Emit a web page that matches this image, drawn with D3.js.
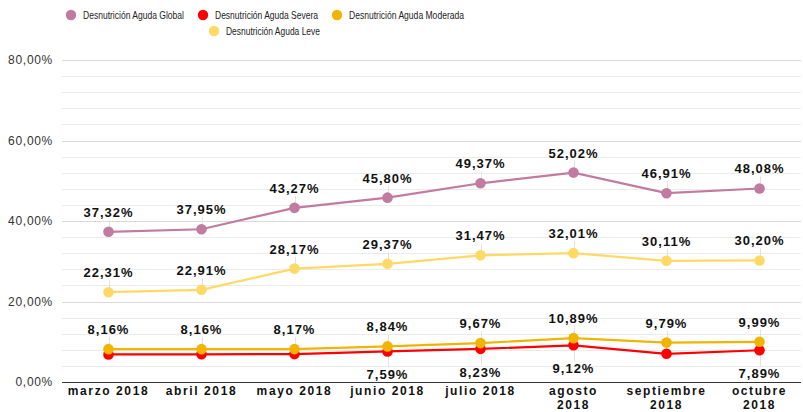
<!DOCTYPE html>
<meta charset="utf-8">
<title>Desnutrición Aguda 2018</title>
<style>
body { margin: 0; background: #fff; }
svg { font-family: "Liberation Sans", Arial, sans-serif; }
.grid line { stroke: #ebebeb; shape-rendering: crispEdges; }
.grid line.major { stroke: #d9d9d9; }
.yaxis text { font-size: 12px; fill: #333; letter-spacing: 0.7px; }
.xaxis text { font-size: 12px; font-weight: bold; fill: #111; letter-spacing: 1.6px; }
.lbl { font-size: 13px; font-weight: bold; fill: #111; letter-spacing: 1px; }
.leader { stroke: #e2e2e2; stroke-width: 1px; }
.legend text { font-size: 10.5px; fill: #222; }
</style>
<body>
<script src="https://cdn.jsdelivr.net/npm/d3@7"></script>
<script>

var months = ["marzo 2018", "abril 2018", "mayo 2018", "junio 2018", "julio 2018", "agosto 2018", "septiembre 2018", "octubre 2018"];
var global   = [37.32, 37.95, 43.27, 45.80, 49.37, 52.02, 46.91, 48.08];
var leve     = [22.31, 22.91, 28.17, 29.37, 31.47, 32.01, 30.11, 30.20];
var moderada = [8.16, 8.16, 8.17, 8.84, 9.67, 10.89, 9.79, 9.99];
var severa   = [6.85, 6.88, 6.93, 7.59, 8.23, 9.12, 7.01, 7.89];
// which severa labels are shown in the picture
var severaShown = [false, false, false, true, true, true, false, true];
var yTicks = [0, 20, 40, 60, 80];

var series = [
  {name: "Desnutrición Aguda Global", values: global, color: "#c27ba0", pos: "above"},
  {name: "Desnutrición Aguda Severa", values: severa, color: "#ff0000", pos: "below", shown: severaShown},
  {name: "Desnutrición Aguda Moderada", values: moderada, color: "#f1b400", pos: "above"},
  {name: "Desnutrición Aguda Leve", values: leve, color: "#ffd966", pos: "above"}
];

var width = 803, height = 412;
var margin = {top: 60, right: 0, bottom: 30, left: 62};

var svg = d3.select("body").append("svg")
    .attr("width", width)
    .attr("height", height);

var x = d3.scaleBand()
    .domain(months)
    .range([margin.left, width + 3]);

var y = d3.scaleLinear()
    .domain([0, 80])
    .range([382, 60]);

var fmt = function(v) { return d3.format(".2f")(v).replace(".", ",") + "%"; };

// gridlines every 4%
var grid = svg.append("g").attr("class", "grid");
grid.selectAll("line")
    .data(d3.range(4, 81, 4))
  .enter().append("line")
    .attr("class", function(d) { return d % 20 === 0 ? "major" : null; })
    .attr("x1", margin.left)
    .attr("x2", width - 2)
    .attr("y1", function(d) { return Math.round(y(d)) + 0.5; })
    .attr("y2", function(d) { return Math.round(y(d)) + 0.5; });

// y axis labels
var yAxis = d3.axisLeft(y)
    .tickValues(yTicks)
    .tickSize(0)
    .tickPadding(9)
    .tickFormat(fmt);

svg.append("g")
    .attr("class", "yaxis")
    .attr("transform", "translate(" + margin.left + ",0)")
    .call(yAxis)
    .call(function(g) { g.select(".domain").remove(); });

// x axis baseline
svg.append("line")
    .attr("x1", margin.left)
    .attr("x2", width - 2)
    .attr("y1", 382.5)
    .attr("y2", 382.5)
    .attr("stroke", "#333")
    .attr("stroke-width", 1.2);

var xAxis = d3.axisBottom(x).tickSize(0).tickPadding(4);
var xg = svg.append("g")
    .attr("class", "xaxis")
    .attr("transform", "translate(0,382)")
    .call(xAxis);
xg.select(".domain").remove();
xg.selectAll(".tick text").each(function(d) {
  var t = d3.select(this);
  var parts = d.split(" ");
  if (d.length > 10) {
    t.text(null);
    t.attr("dy", null).attr("y", 4);
    t.append("tspan").attr("x", 0).attr("dy", "0.71em").text(parts[0]);
    t.append("tspan").attr("x", 0).attr("dy", "1.17em").text(parts[1]);
  }
});

var cx = function(i) { return x(months[i]) + x.bandwidth() / 2; };

// leader lines + labels
var labelLayer = svg.append("g");
series.forEach(function(s) {
  s.values.forEach(function(v, i) {
    if (s.shown && !s.shown[i]) return;
    var py = y(v);
    var ly = s.pos === "above" ? py - 15 : py + 28;
    labelLayer.append("line")
        .attr("class", "leader")
        .attr("x1", Math.round(cx(i)) + 0.5)
        .attr("x2", Math.round(cx(i)) + 0.5)
        .attr("y1", s.pos === "above" ? ly + 3 : ly - 12)
        .attr("y2", py);
    labelLayer.append("text")
        .attr("class", "lbl")
        .attr("x", cx(i))
        .attr("y", ly)
        .attr("text-anchor", "middle")
        .text(fmt(v));
  });
});

// lines and points
var line = d3.line()
    .x(function(d, i) { return cx(i); })
    .y(function(d) { return y(d); });

var drawOrder = [series[3], series[1], series[2], series[0]];
drawOrder.forEach(function(s) {
  svg.append("path")
      .attr("d", line(s.values))
      .attr("fill", "none")
      .attr("stroke", s.color)
      .attr("stroke-width", 2.2);
  svg.append("g").selectAll("circle")
      .data(s.values)
    .enter().append("circle")
      .attr("cx", function(d, i) { return cx(i); })
      .attr("cy", function(d) { return y(d); })
      .attr("r", 5.3)
      .attr("fill", s.color);
});

// legend
var legendItems = [
  {s: series[0], x: 71, y: 15, w: 101},
  {s: series[1], x: 203, y: 15, w: 103},
  {s: series[2], x: 337, y: 15, w: 115},
  {s: series[3], x: 214, y: 31, w: 94}
];
var legend = svg.append("g").attr("class", "legend");
legendItems.forEach(function(it) {
  legend.append("circle")
      .attr("cx", it.x)
      .attr("cy", it.y)
      .attr("r", 5.2)
      .attr("fill", it.s.color);
  legend.append("text")
      .attr("x", it.x + 12)
      .attr("y", it.y + 3.5)
      .attr("textLength", it.w)
      .attr("lengthAdjust", "spacingAndGlyphs")
      .text(it.s.name);
});

</script>
</body>
